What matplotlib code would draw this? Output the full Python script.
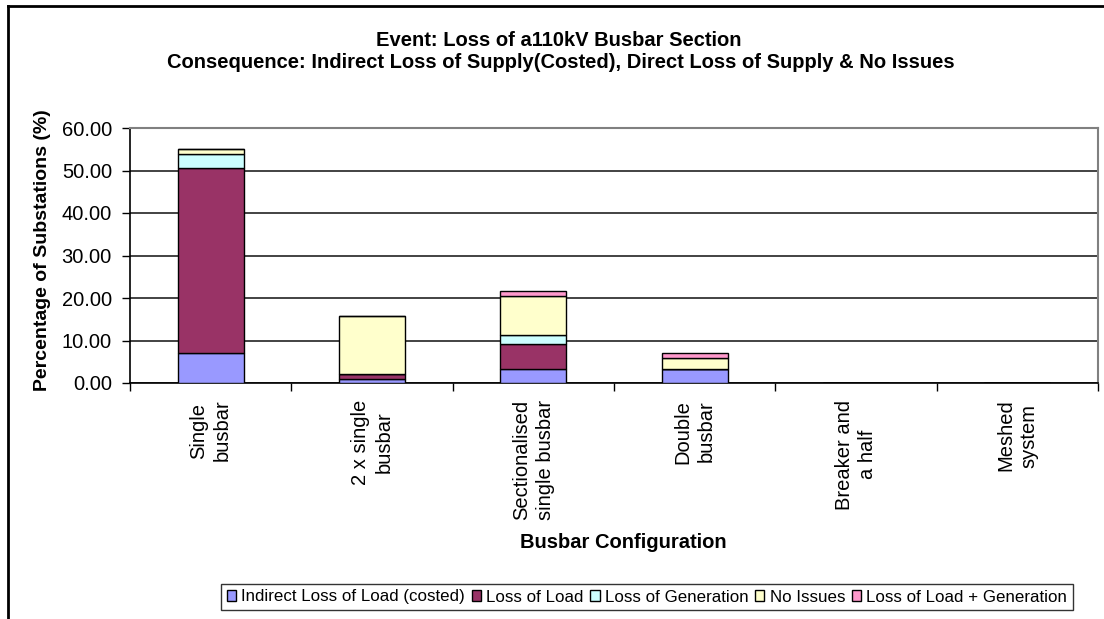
import matplotlib
matplotlib.use('Agg')
import matplotlib.pyplot as plt
import numpy as np
from matplotlib.lines import Line2D
from matplotlib.ticker import FormatStrFormatter

plt.rcParams['font.family'] = ['Liberation Sans', 'DejaVu Sans']

categories = ['Single\nbusbar', '2 x single\nbusbar', 'Sectionalised\nsingle busbar',
              'Double\nbusbar', 'Breaker and\na half', 'Meshed\nsystem']
series_names = ['Indirect Loss of Load (costed)', 'Loss of Load', 'Loss of Generation',
                'No Issues', 'Loss of Load + Generation']
indirect_loss = [7.0, 1.0, 3.2, 3.2, 0.0, 0.0]
loss_of_load = [43.5, 1.1, 6.0, 0.0, 0.0, 0.0]
loss_of_gen = [3.5, 0.0, 2.2, 0.0, 0.0, 0.0]
no_issues = [1.0, 13.7, 9.1, 2.6, 0.0, 0.0]
load_plus_gen = [0.0, 0.0, 1.2, 1.2, 0.0, 0.0]
colors = ['#9999FF', '#993366', '#CCFFFF', '#FFFFCC', '#FF99CC']

W, H = 1104, 619
fig = plt.figure(figsize=(W / 100, H / 100), dpi=100)
ax = fig.add_axes([130 / W, 1 - 383 / H, (1098 - 130) / W, (383 - 128) / H])

x = np.arange(len(categories))
bottom = np.zeros(len(categories))
for vals, col, name in zip([indirect_loss, loss_of_load, loss_of_gen, no_issues, load_plus_gen],
                           colors, series_names):
    vals = np.array(vals)
    ax.bar(x, vals, width=0.41, bottom=bottom, color=col, edgecolor='black',
           linewidth=1.0, label=name, zorder=3)
    bottom += vals

ax.set_xlim(-0.5, len(categories) - 0.5)
ax.set_ylim(0, 60)
ax.set_yticks(np.arange(0, 61, 10))
ax.yaxis.set_major_formatter(FormatStrFormatter('%.2f'))
ax.yaxis.grid(True, color='#222222', linewidth=1.2, zorder=0)
ax.tick_params(axis='y', direction='out', length=6, width=1, labelsize=14.5, pad=7)

ax.set_xticks(x)
ax.set_xticklabels(categories, rotation=90, fontsize=14.5, va='top', ha='center',
                   multialignment='center', linespacing=1.3)
ax.tick_params(axis='x', which='major', length=0, pad=12)
ax.set_xticks(np.arange(-0.5, len(categories), 1), minor=True)
ax.tick_params(axis='x', which='minor', direction='out', length=6, width=1)

for s in ['top', 'right']:
    ax.spines[s].set_color('#808080')
    ax.spines[s].set_linewidth(1.5)
for s in ['left', 'bottom']:
    ax.spines[s].set_color('black')
    ax.spines[s].set_linewidth(1.2)

fig.text(559 / W, 1 - 40 / H, 'Event: Loss of a110kV Busbar Section', ha='center', va='center',
         fontsize=14.5, fontweight='bold')
fig.text(561 / W, 1 - 62 / H,
         'Consequence: Indirect Loss of Supply(Costed), Direct Loss of Supply & No Issues',
         ha='center', va='center', fontsize=14.5, fontweight='bold')
fig.text(43 / W, 1 - 250 / H, 'Percentage of Substations (%)', rotation=90, ha='center',
         va='center', fontsize=14, fontweight='bold')
fig.text(623 / W, 1 - 543 / H, 'Busbar Configuration', ha='center', va='center',
         fontsize=14.5, fontweight='bold')

leg = fig.legend(loc='center', bbox_to_anchor=(647 / W, 1 - 597 / H), ncol=5, fontsize=12.2,
                 frameon=True, fancybox=False, handlelength=0.55, handleheight=0.55,
                 handletextpad=0.3, columnspacing=0.4, borderpad=0.35)
leg.get_frame().set_edgecolor('black')
leg.get_frame().set_linewidth(1.0)
for p in leg.get_patches():
    p.set_linewidth(1.0)

# outer chart border (left and top only, chart is cropped)
fig.add_artist(Line2D([8 / W, 8 / W], [0, 1 - 6 / H], transform=fig.transFigure,
                      color='black', linewidth=2))
fig.add_artist(Line2D([8 / W, 1], [1 - 6 / H, 1 - 6 / H], transform=fig.transFigure,
                      color='black', linewidth=2))

fig.savefig('out.png', dpi=100)
